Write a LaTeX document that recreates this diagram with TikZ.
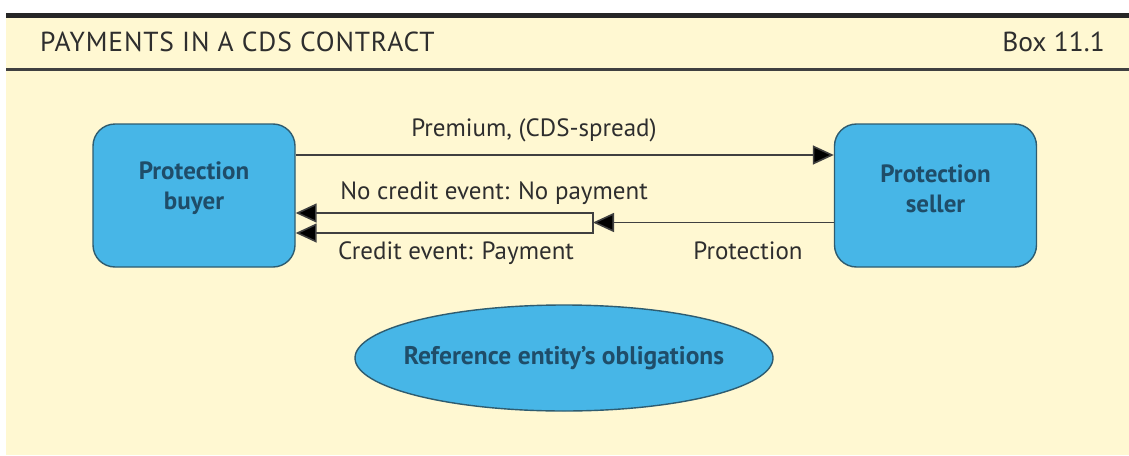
\documentclass[tikz,border=0pt]{standalone}
\usepackage{fontspec}
\setmainfont{PT Sans}
\usetikzlibrary{arrows.meta,shapes.geometric}
\definecolor{cream}{HTML}{FFF8D2}
\definecolor{boxblue}{HTML}{47B6E7}
\definecolor{boxedge}{HTML}{2E5C70}
\definecolor{boxtxt}{HTML}{1F4D69}
\definecolor{lbltxt}{HTML}{2E2E2E}
\definecolor{linegray}{HTML}{404040}
\tikzset{
  party/.style={draw=boxedge, line width=1.4pt, fill=boxblue, rounded corners=22pt,
    minimum width=202pt, minimum height=143pt, inner sep=0pt},
  partytext/.style={text=boxtxt, align=center, font=\fontsize{25}{30}\selectfont\bfseries},
  entity/.style={ellipse, draw=boxedge, line width=1.4pt, fill=boxblue,
    minimum width=418pt, minimum height=106pt, inner sep=0pt},
  entitytext/.style={text=boxtxt, inner sep=0pt, font=\fontsize{25.5}{30}\selectfont\bfseries},
  lbl/.style={text=lbltxt, anchor=base, inner sep=0pt, font=\fontsize{25}{30}\selectfont},
  flow/.style={draw=linegray, line width=1.6pt, -{Triangle[length=21pt,width=19pt,fill=black]}},
  ret/.style={draw=linegray, line width=1.6pt,
    {Triangle[length=21pt,width=19pt,fill=black]}-{Triangle[length=21pt,width=19pt,fill=black]}},
  headtxt/.style={text=lbltxt, inner sep=0pt, font=\fontsize{27.5}{32}\selectfont}
}
\begin{document}
\begin{tikzpicture}[x=1pt,y=-1pt]
  \useasboundingbox (0,0) rectangle (1129,455);
  % panel background, top rule and heading separator
  \fill[cream] (6,15) rectangle (1129,455);
  \draw[line width=5pt, color=black!85] (6,15) -- (1129,15);
  \draw[line width=2.5pt, color=black!75] (6,69.5) -- (1129,69.5);
  \node[headtxt, anchor=base west] (title) at (40,51) {\addfontfeature{LetterSpace=3}PAYMENTS IN A CDS CONTRACT};
  \node[headtxt, anchor=base east] (boxno) at (1105,51) {Box 11.1};

  % parties
  \node[party] (buyer) at (194,195.5) {};
  \node[party] (seller) at (935.5,195.5) {};
  \node[partytext] (buyertxt) at ([yshift=7pt]buyer.center) {Protection\\buyer};
  \node[partytext] (sellertxt) at ([yshift=7pt]seller.center) {Protection\\seller};

  % premium leg
  \draw[flow] ([yshift=40.5pt]buyer.east) -- ([yshift=40.5pt]seller.west);
  \node[lbl] (premium) at (534,136) {Premium, (CDS-spread)};

  % protection leg splitting into the two outcomes
  \coordinate (split) at (593,222.5);
  \draw[ret] ([yshift=-17.5pt]buyer.east) -- ([yshift=-17.5pt]buyer.east -| split)
    -- ([yshift=-37.5pt]buyer.east -| split) -- ([yshift=-37.5pt]buyer.east);
  \draw[flow] (seller.west |- split) -- (split);
  \node[lbl] (nopay) at (494,199) {No credit event: No payment};
  \node[lbl] (pay) at (456,259) {Credit event: Payment};
  \node[lbl] (prot) at (748,259) {Protection};

  % reference entity
  \node[entity] (ref) at (564,358) {};
  \node[entitytext] (reftxt) at (ref.center) {Reference entity's obligations};
\end{tikzpicture}
\end{document}
